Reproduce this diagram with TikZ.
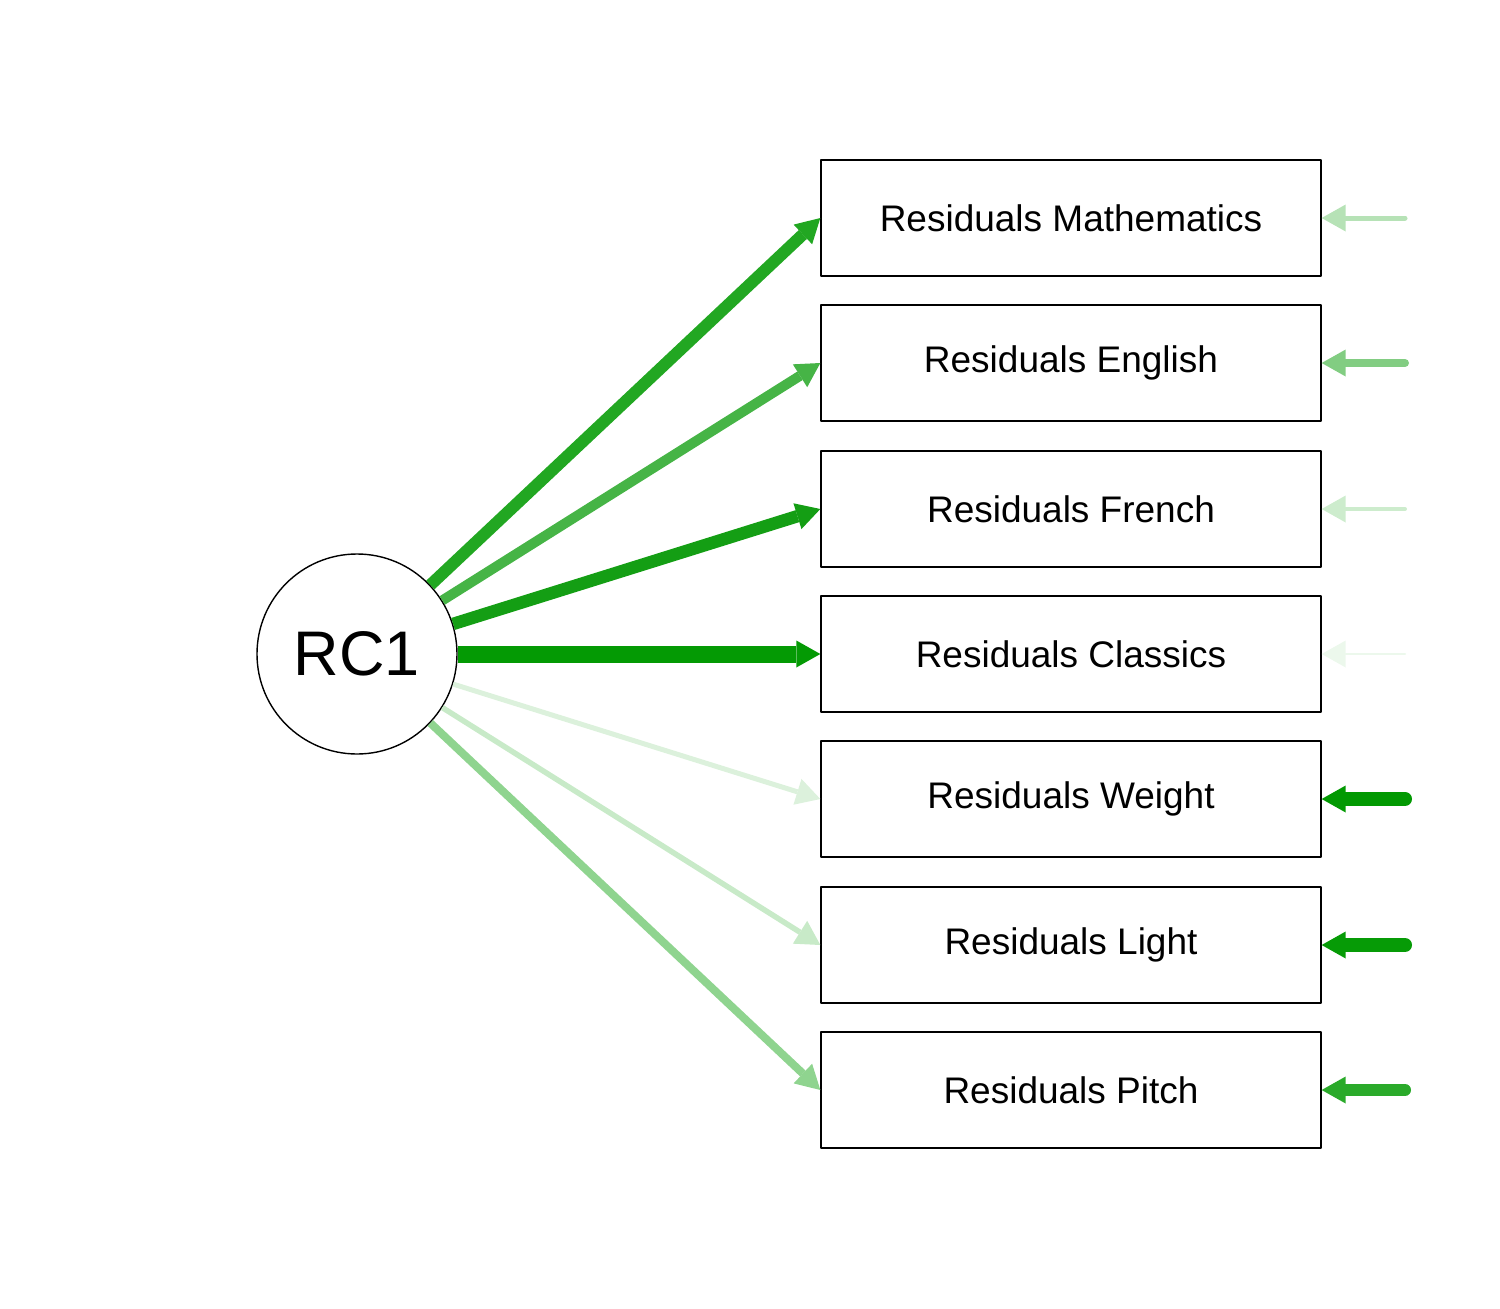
\documentclass[tikz,border=0pt]{standalone}
\usepackage{fontspec}
\setmainfont{Liberation Sans}
\usetikzlibrary{arrows.meta}
\definecolor{eMath}{RGB}{34,167,34}
\definecolor{eEng}{RGB}{70,180,70}
\definecolor{eFre}{RGB}{20,158,20}
\definecolor{eCla}{RGB}{4,154,4}
\definecolor{eWei}{RGB}{220,241,220}
\definecolor{eLig}{RGB}{200,234,200}
\definecolor{ePit}{RGB}{143,212,143}
\definecolor{rMath}{RGB}{182,226,182}
\definecolor{rEng}{RGB}{130,205,130}
\definecolor{rFre}{RGB}{205,236,205}
\definecolor{rCla}{RGB}{236,248,236}
\definecolor{rWei}{RGB}{2,153,2}
\definecolor{rLig}{RGB}{6,155,6}
\definecolor{rPit}{RGB}{42,170,42}
\begin{document}
\begin{tikzpicture}[x=1pt,y=-1pt,line join=round,
	>={Triangle[length=24pt,width=27pt,line width=0pt]},
	resbox/.style={draw,line width=1.3pt,minimum width=500pt,minimum height=116pt,inner sep=0pt,font=\fontsize{37}{40}\selectfont},
	latent/.style={circle,draw,line width=1.4pt,minimum size=200pt,inner sep=0pt,font=\fontsize{63}{70}\selectfont}]
	\useasboundingbox (0,0) rectangle (1500,1309);
	%Nodes
	\node[latent] (rc1) at (357,654) {RC1};
	\foreach \n/\y/\t in {math/218/Mathematics, english/363/English, french/509/French, classics/654/Classics, weight/799/Weight, light/945/Light, pitch/1090/Pitch} {
		\node[resbox] (\n) at (1071,\y) {Residuals \t};
		\coordinate (r\n) at (1405,\y);
	}
	%Loadings
	\foreach \n/\c/\w in {math/eMath/12, english/eEng/10, french/eFre/12.5, classics/eCla/17, weight/eWei/5, light/eLig/5.5, pitch/ePit/8} {
		\draw[->,color=\c,line width=\w pt] (rc1) -- (\n.west);
	}
	%Residuals
	\foreach \n/\c/\w in {math/rMath/5, english/rEng/8, french/rFre/4, classics/rCla/2.5, weight/rWei/14, light/rLig/14, pitch/rPit/12} {
		\draw[->,color=\c,line width=\w pt,line cap=round] (r\n) -- (\n.east);
	}
\end{tikzpicture}
\end{document}
